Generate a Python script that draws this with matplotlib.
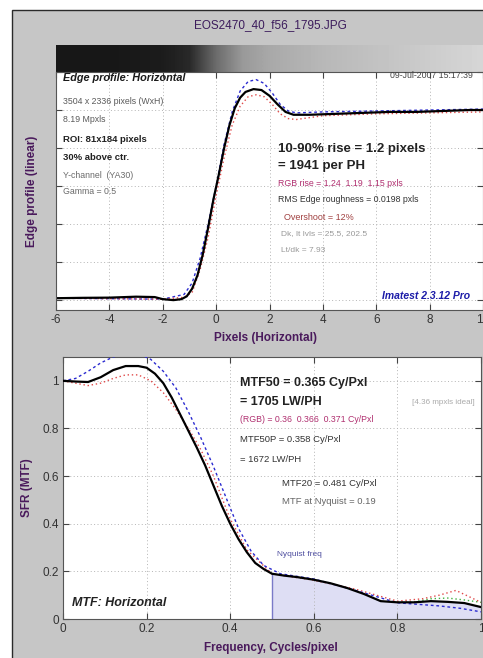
import numpy as np
import matplotlib
matplotlib.use("Agg")
import matplotlib.pyplot as plt
from matplotlib.patches import Rectangle

plt.rcParams['font.family'] = ['Liberation Sans', 'DejaVu Sans']
plt.rcParams['axes.unicode_minus'] = False

# ---------------- data ----------------
# Edge profile (pixels vs normalized level)
edge_x = [-6.0, -5.0, -4.0, -3.0, -2.3, -2.0, -1.6, -1.3, -1.1, -0.9, -0.7, -0.5, -0.3,
          -0.1, 0.1, 0.3, 0.5, 0.7, 0.9, 1.1, 1.4, 1.7, 2.0, 2.3, 2.6, 2.9, 3.5, 4.5,
          5.5, 6.5, 7.5, 8.5, 9.5, 10.0]
edge_y = [0.010, 0.012, 0.013, 0.018, 0.016, 0.005, 0.000, 0.005, 0.020, 0.060, 0.130,
          0.240, 0.380, 0.530, 0.660, 0.800, 0.920, 1.010, 1.065, 1.095, 1.110, 1.105,
          1.075, 1.030, 0.990, 0.975, 0.975, 0.980, 0.985, 0.990, 0.990, 0.995, 1.000, 1.000]
edge_blue_x = [-6.0, -2.0, -1.2, -0.9, -0.6, -0.3, 0.0, 0.3, 0.6, 0.9, 1.2, 1.5, 1.8,
               2.1, 2.4, 2.7, 3.0, 4.0, 6.0, 8.0, 10.0]
edge_blue_y = [0.010, 0.005, 0.030, 0.090, 0.220, 0.400, 0.600, 0.820, 0.990, 1.100,
               1.150, 1.160, 1.140, 1.090, 1.030, 0.995, 0.985, 0.990, 0.995, 1.000, 1.005]
edge_red_x = [-6.0, -2.0, -1.2, -0.9, -0.6, -0.3, 0.0, 0.3, 0.6, 0.9, 1.2, 1.5, 1.8,
              2.1, 2.4, 2.7, 3.0, 3.5, 4.0, 6.0, 8.0, 10.0]
edge_red_y = [0.010, 0.005, 0.015, 0.040, 0.160, 0.330, 0.550, 0.750, 0.920, 1.020,
              1.070, 1.080, 1.070, 1.030, 0.980, 0.955, 0.950, 0.960, 0.970, 0.980, 0.985, 0.990]

# Gradient bar grey levels (one per pixel unit, -6 .. 10)
bar_levels = [0.09, 0.09, 0.09, 0.10, 0.11, 0.16, 0.42, 0.60, 0.66, 0.69, 0.72,
              0.74, 0.76, 0.78, 0.80, 0.82, 0.84]

# MTF curves (cycles/pixel vs MTF)
mtf_f = [0.00, 0.03, 0.06, 0.09, 0.12, 0.15, 0.18, 0.20, 0.22, 0.24, 0.26, 0.28, 0.30,
         0.32, 0.34, 0.36, 0.38, 0.40, 0.42, 0.44, 0.46, 0.48, 0.50, 0.53, 0.56, 0.60,
         0.64, 0.68, 0.72, 0.76, 0.80, 0.84, 0.88, 0.92, 0.96, 1.00]
mtf_k = [1.000, 0.997, 0.995, 1.015, 1.045, 1.062, 1.062, 1.055, 1.030, 0.990, 0.930,
         0.860, 0.790, 0.720, 0.645, 0.560, 0.475, 0.400, 0.335, 0.280, 0.235, 0.210,
         0.190, 0.182, 0.176, 0.165, 0.150, 0.130, 0.105, 0.075, 0.070, 0.070, 0.075,
         0.072, 0.067, 0.050]
mtf_blue_f = [0.00, 0.03, 0.06, 0.09, 0.12, 0.15, 0.18, 0.21, 0.24, 0.27, 0.30, 0.33,
              0.36, 0.39, 0.42, 0.45, 0.48, 0.52, 0.60, 0.70, 0.80, 0.90, 0.95, 1.00]
mtf_blue = [1.000, 1.010, 1.040, 1.075, 1.100, 1.115, 1.115, 1.090, 1.040, 0.970, 0.870,
            0.760, 0.640, 0.510, 0.380, 0.285, 0.225, 0.190, 0.168, 0.120, 0.068, 0.055,
            0.045, 0.030]
mtf_red_f = [0.00, 0.03, 0.06, 0.09, 0.12, 0.15, 0.18, 0.21, 0.24, 0.27, 0.30, 0.33,
             0.36, 0.40, 0.44, 0.50, 0.60, 0.70, 0.80, 0.86, 0.90, 0.94, 0.97, 1.00]
mtf_red = [1.000, 0.990, 0.980, 0.990, 1.010, 1.025, 1.025, 1.000, 0.950, 0.880, 0.800,
           0.710, 0.600, 0.420, 0.290, 0.190, 0.163, 0.125, 0.075, 0.085, 0.100, 0.120,
           0.095, 0.070]
mtf_green_f = [0.80, 0.84, 0.88, 0.92, 0.96, 1.00]
mtf_green = [0.070, 0.072, 0.085, 0.088, 0.080, 0.070]

nyq_f = 0.5

edge_xticks = [-6, -4, -2, 0, 2, 4, 6, 8, 10]
edge_yticks = [0.0, 0.2, 0.4, 0.6, 0.8, 1.0, 1.2]
mtf_ticks = [0, 0.2, 0.4, 0.6, 0.8, 1.0]
mtf_ticklabels = ['0', '0.2', '0.4', '0.6', '0.8', '1']
mtf_yticks = [0, 0.2, 0.4, 0.6, 0.8, 1.0]

# ---------------- figure ----------------
W, H = 483, 658
fig = plt.figure(figsize=(W / 100, H / 100), dpi=100)
fig.patch.set_facecolor('white')
fig.patches.append(Rectangle((12 / W, -0.01), 1.0, 1 - 10 / H + 0.01,
                             transform=fig.transFigure, facecolor='#c6c6c6',
                             edgecolor='#2a2a2a', lw=1.0, zorder=-10))

def px(x, y):
    return x / W, 1 - y / H

def ftext(x, y, s, **kw):
    fx, fy = px(x, y)
    kw.setdefault('va', 'center')
    fig.text(fx, fy, s, **kw)

purple = '#4a1a5c'
tickcol = '#333333'

def style(ax):
    ax.set_facecolor('white')
    ax.tick_params(direction='in', top=True, right=True, length=4, width=0.8,
                   labelsize=8.5, colors='#444444', labelcolor=tickcol, pad=3)
    ax.grid(True, linestyle=(0, (1, 2.5)), color='#b4b4b4', lw=0.7)
    for sp in ax.spines.values():
        sp.set_color('#555555')
        sp.set_linewidth(0.8)

# gradient bar
axb = fig.add_axes([56 / W, 1 - 72 / H, 1 - 56 / W, 27 / H])
axb.imshow(np.array([bar_levels]), cmap='gray', vmin=0, vmax=1, aspect='auto',
           interpolation='bilinear', extent=(-6.5, 10.5, 0, 1))
axb.set_xlim(-6, 10)
axb.set_axis_off()

# top axes: edge profile
ax1 = fig.add_axes([56 / W, 1 - 310 / H, 1 - 56 / W, 238 / H])
style(ax1)
ax1.set_xlim(-6, 10)
ax1.set_ylim(-0.052, 1.2)
ax1.set_xticks(edge_xticks)
ax1.set_yticks(edge_yticks)
ax1.set_yticklabels([])
ax1.plot(edge_blue_x, edge_blue_y, color='#2b2bd0', lw=1.0, ls=(0, (2, 2)))
ax1.plot(edge_red_x, edge_red_y, color='#e04848', lw=1.0, ls=(0, (1, 2)))
ax1.plot(edge_x, edge_y, color='black', lw=1.6)

# bottom axes: MTF
ax2 = fig.add_axes([63 / W, 1 - 619 / H, 418 / W, 262 / H])
style(ax2)
ax2.set_xlim(0, 1)
ax2.set_ylim(0, 1.1)
ax2.set_xticks(mtf_ticks)
ax2.set_xticklabels(mtf_ticklabels)
ax2.set_yticks(mtf_yticks)
ax2.set_yticklabels(mtf_ticklabels)
fk = np.array(mtf_f)
vk = np.array(mtf_k)
mask = fk >= nyq_f
ax2.fill_between(fk[mask], 0, vk[mask], color='#dedef4', lw=0, zorder=1)
ax2.plot([nyq_f, nyq_f], [0, vk[fk == nyq_f][0]], color='#7a7ac8', lw=1.0, zorder=2)
ax2.plot(mtf_green_f, mtf_green, color='#40b040', lw=1.0, ls=(0, (1, 2)), zorder=2)
ax2.plot(mtf_red_f, mtf_red, color='#e04848', lw=1.0, ls=(0, (1, 2)), zorder=3)
ax2.plot(mtf_blue_f, mtf_blue, color='#2b2bd0', lw=1.0, ls=(0, (2, 2)), zorder=3)
ax2.plot(mtf_f, mtf_k, color='black', lw=1.6, zorder=4)

# ---------------- text ----------------
ftext(270, 25, 'EOS2470_40_f56_1795.JPG', ha='center', fontsize=8.5, color='#3c1c5c')
ftext(32, 191, 'Edge profile (linear)', ha='center', rotation=90, fontsize=8.5,
      fontweight='bold', color=purple)
ftext(27, 488, 'SFR (MTF)', ha='center', rotation=90, fontsize=8.5,
      fontweight='bold', color=purple)
ftext(266, 338, 'Pixels (Horizontal)', ha='center', fontsize=8.5, fontweight='bold', color=purple)
ftext(271, 648, 'Frequency, Cycles/pixel', ha='center', fontsize=8.5, fontweight='bold', color=purple)

ftext(63, 78, 'Edge profile: Horizontal', fontsize=7.8, fontweight='bold', style='italic', color='#1a1a1a')
ftext(63, 101, '3504 x 2336 pixels (WxH)', fontsize=6.3, color='#5a5a5a')
ftext(63, 120, '8.19 Mpxls', fontsize=6.3, color='#5a5a5a')
ftext(63, 140, 'ROI: 81x184 pixels', fontsize=6.8, fontweight='bold', color='#222222')
ftext(63, 157, '30% above ctr.', fontsize=6.8, fontweight='bold', color='#222222')
ftext(63, 175, 'Y-channel  (YA30)', fontsize=6.3, color='#6a6a6a')
ftext(63, 192, 'Gamma = 0.5', fontsize=6.3, color='#6a6a6a')
ftext(473, 76, '09-Jul-2007 15:17:39', ha='right', fontsize=6.3, color='#444444')
ftext(278, 149, '10-90% rise = 1.2 pixels', fontsize=9.5, fontweight='bold', color='#222222')
ftext(278, 166, '= 1941 per PH', fontsize=9.5, fontweight='bold', color='#222222')
ftext(278, 183, 'RGB rise = 1.24  1.19  1.15 pxls', fontsize=6.3, color='#b03070')
ftext(278, 200, 'RMS Edge roughness = 0.0198 pxls', fontsize=6.3, color='#333333')
ftext(284, 218, 'Overshoot = 12%', fontsize=6.5, color='#a04040')
ftext(281, 234, 'Dk, lt lvls = 25.5, 202.5', fontsize=6, color='#999999')
ftext(281, 250, 'Lt/dk = 7.93', fontsize=6, color='#999999')
ftext(470, 296, 'Imatest 2.3.12 Pro', ha='right', fontsize=7.5, fontweight='bold',
      style='italic', color='#1c1ca8')

ftext(240, 383, 'MTF50 = 0.365 Cy/Pxl', fontsize=9, fontweight='bold', color='#222222')
ftext(240, 402, '= 1705 LW/PH', fontsize=9, fontweight='bold', color='#222222')
ftext(475, 403, '[4.36 mpxls ideal]', ha='right', fontsize=5.8, color='#aaaaaa')
ftext(240, 420, '(RGB) = 0.36  0.366  0.371 Cy/Pxl', fontsize=6.3, color='#b03070')
ftext(240, 439, 'MTF50P = 0.358 Cy/Pxl', fontsize=6.8, color='#333333')
ftext(240, 459, '= 1672 LW/PH', fontsize=6.8, color='#333333')
ftext(282, 483, 'MTF20 = 0.481 Cy/Pxl', fontsize=6.8, color='#333333')
ftext(282, 502, 'MTF at Nyquist = 0.19', fontsize=6.8, color='#666666')
ftext(277, 555, 'Nyquist freq', fontsize=6, color='#5050a0')
ftext(72, 603, 'MTF: Horizontal', fontsize=9, fontweight='bold', style='italic', color='#222222')

fig.savefig('out.png', dpi=100, facecolor=fig.get_facecolor())
